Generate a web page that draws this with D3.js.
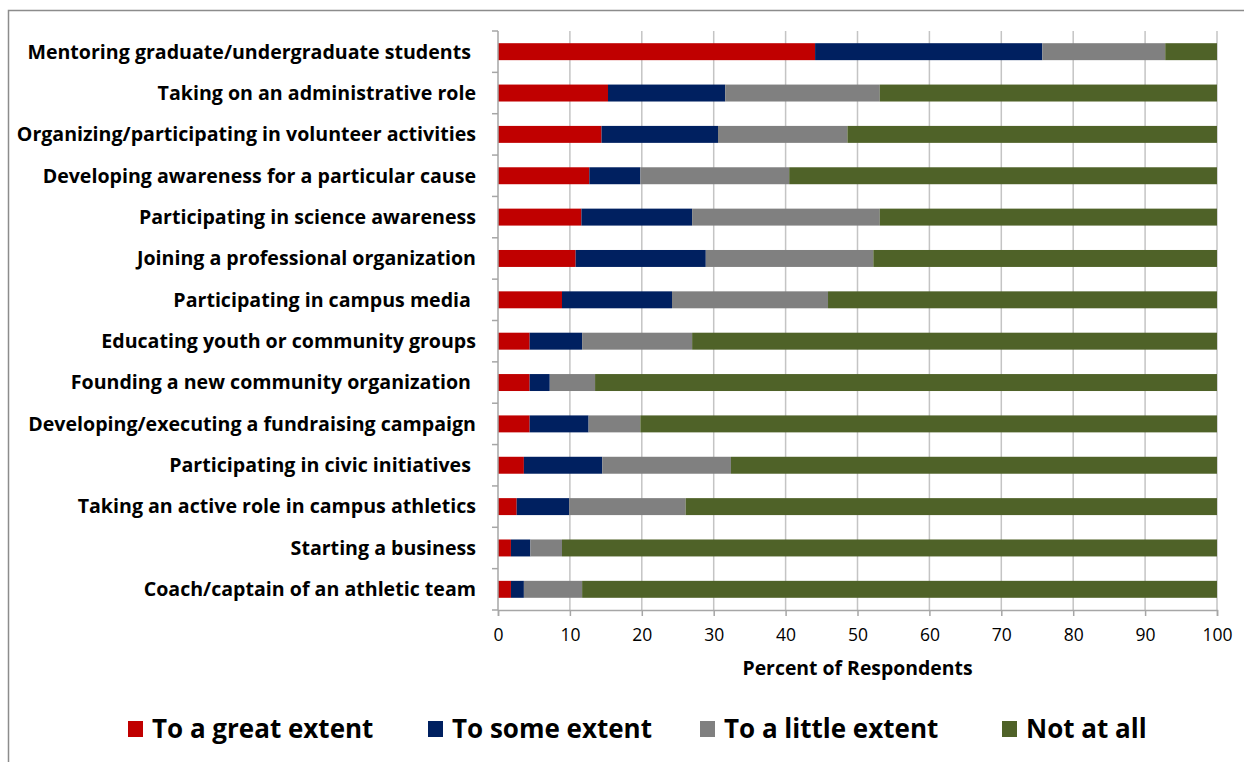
<!DOCTYPE html>
<html>
<head>
<meta charset="utf-8">
<script src="https://cdn.jsdelivr.net/npm/d3@7"></script>
<style>
  html, body { margin: 0; padding: 0; background: #fff; }
  svg { display: block; }
  text { font-family: "Open Sans", Lato, sans-serif; fill: #000; }
</style>
</head>
<body>
<svg id="chart" width="1244" height="762"></svg>
<script>
const categories = [
  "Mentoring graduate/undergraduate students ",
  "Taking on an administrative role",
  "Organizing/participating in volunteer activities",
  "Developing awareness for a particular cause",
  "Participating in science awareness",
  "Joining a professional organization",
  "Participating in campus media ",
  "Educating youth or community groups",
  "Founding a new community organization ",
  "Developing/executing a fundraising campaign",
  "Participating in civic initiatives ",
  "Taking an active role in campus athletics",
  "Starting a business",
  "Coach/captain of an athletic team"
];
const seriesNames = ["To a great extent", "To some extent", "To a little extent", "Not at all"];
const greatExtent  = [44.1, 15.3, 14.4, 12.7, 11.6, 10.8, 8.9, 4.4, 4.4, 4.4, 3.6, 2.6, 1.8, 1.8];
const someExtent   = [31.6, 16.3, 16.2, 7.1, 15.4, 18.1, 15.3, 7.3, 2.8, 8.2, 10.9, 7.3, 2.7, 1.8];
const littleExtent = [17.1, 21.5, 18.0, 20.7, 26.1, 23.3, 21.7, 15.3, 6.3, 7.2, 17.9, 16.2, 4.4, 8.1];
const notAtAll     = [7.2, 46.9, 51.4, 59.5, 46.9, 47.8, 54.1, 73.0, 86.5, 80.2, 67.6, 73.9, 91.1, 88.3];
const xTicks = [0, 10, 20, 30, 40, 50, 60, 70, 80, 90, 100];
const colors = ["#C00000", "#002060", "#808080", "#4F6228"];

const rows = categories.map((c, i) => ({
  cat: c,
  [seriesNames[0]]: greatExtent[i],
  [seriesNames[1]]: someExtent[i],
  [seriesNames[2]]: littleExtent[i],
  [seriesNames[3]]: notAtAll[i]
}));

const svg = d3.select("#chart");

// outer frame
svg.append("rect").attr("x", 8.5).attr("y", 10.5).attr("width", 1260).attr("height", 800)
  .attr("fill", "none").attr("stroke", "#8c8c8c").attr("stroke-width", 1.5);

const x = d3.scaleLinear().domain([0, 100]).range([498, 1217]);
const y = d3.scaleBand().domain(categories).range([31, 610]).paddingInner(0.59).paddingOuter(0.295);
const color = d3.scaleOrdinal().domain(seriesNames).range(colors);

// gridlines
svg.append("g").selectAll("line").data(xTicks.filter(t => t > 0)).join("line")
  .attr("x1", d => x(d)).attr("x2", d => x(d)).attr("y1", 31).attr("y2", 610)
  .attr("stroke", "#c4c4c4").attr("stroke-width", 1.5);

// stacked bars
const stack = d3.stack().keys(seriesNames)(rows);
svg.append("g").selectAll("g").data(stack).join("g")
  .attr("fill", d => color(d.key))
  .selectAll("rect").data(d => d).join("rect")
  .attr("x", d => x(d[0]))
  .attr("y", d => y(d.data.cat))
  .attr("width", d => x(d[1]) - x(d[0]))
  .attr("height", y.bandwidth());

// y axis line and ticks at band boundaries
const yAxisG = svg.append("g");
yAxisG.append("line").attr("x1", 498).attr("x2", 498).attr("y1", 31).attr("y2", 610)
  .attr("stroke", "#a6a6a6").attr("stroke-width", 1.5);
const bounds = d3.range(categories.length + 1).map(i => 31 + i * y.step());
yAxisG.selectAll("line.tk").data(bounds).join("line").attr("class", "tk")
  .attr("x1", 492).attr("x2", 498).attr("y1", d => d).attr("y2", d => d)
  .attr("stroke", "#a6a6a6").attr("stroke-width", 1.5);

// category labels
svg.append("g").selectAll("text").data(categories).join("text")
  .attr("x", 476)
  .attr("y", d => y(d) + y.bandwidth() / 2)
  .attr("dy", "0.35em")
  .attr("text-anchor", "end")
  .style("white-space", "pre")
  .attr("font-weight", "bold")
  .attr("font-size", 19.6)
  .attr("fill", "#111")
  .text(d => d);

// x axis
const xAxis = d3.axisBottom(x).tickValues(xTicks).tickSize(6).tickPadding(13).tickFormat(d3.format("d"));
const xg = svg.append("g").attr("transform", "translate(0,610)").call(xAxis);
xg.select(".domain").attr("stroke", "#a6a6a6").attr("stroke-width", 1.5);
xg.selectAll(".tick line").attr("stroke", "#a6a6a6").attr("stroke-width", 1.5);
xg.selectAll(".tick text").attr("font-size", 17.5).attr("fill", "#222")
  .attr("font-family", "'Open Sans', sans-serif");

// x axis title
svg.append("text").attr("x", (x(0) + x(100)) / 2).attr("y", 668).attr("dy", "0.35em")
  .attr("text-anchor", "middle").attr("font-weight", "bold").attr("font-size", 19.4)
  .attr("fill", "#111").text("Percent of Respondents");

// legend
const legendX = [128, 428, 700, 1002];
const lg = svg.append("g").selectAll("g").data(seriesNames).join("g")
  .attr("transform", (d, i) => `translate(${legendX[i]},729)`);
lg.append("rect").attr("x", 0).attr("y", -8).attr("width", 15).attr("height", 16)
  .attr("fill", d => color(d));
lg.append("text").attr("x", 24).attr("dy", "0.35em").attr("font-weight", "bold")
  .attr("font-size", 26).text(d => d);
</script>
</body>
</html>
